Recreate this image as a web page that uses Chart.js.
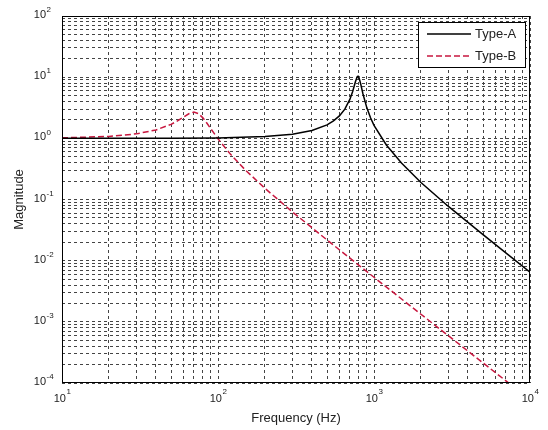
<!DOCTYPE html>
<html lang="en">
<head>
<meta charset="UTF-8">
<title>Magnitude response</title>
<script src="https://cdn.jsdelivr.net/npm/chart.js"></script>
<style>
  html, body { margin: 0; padding: 0; background: #fff; }
  #wrap { width: 548px; height: 430px; }
</style>
</head>
<body>
<div id="wrap"><canvas id="bode"></canvas></div>
<script>
  // values
  const seriesNames = ['Type-A', 'Type-B'];
  const freqA = [10, 20, 50, 100, 200, 300, 400, 500, 550, 600, 650, 700, 730, 760, 780, 790, 800, 820, 850, 900, 950, 1000, 1200, 1500, 2000, 3000, 5000, 7000, 10000];
  const magA  = [1.000, 1.001, 1.004, 1.016, 1.068, 1.168, 1.342, 1.66, 1.925, 2.33, 3.0, 4.33, 5.85, 8.43, 10.2, 10.4, 9.95, 7.93, 5.3, 3.15, 2.17, 1.63, 0.78, 0.395, 0.19, 0.077, 0.0266, 0.0134, 0.0065];
  const freqB = [10, 20, 30, 40, 50, 55, 60, 65, 70, 75, 80, 85, 90, 100, 120, 150, 200, 300, 500, 1000, 2000, 5000, 10000];
  const magB  = [1.018, 1.074, 1.183, 1.37, 1.691, 1.928, 2.22, 2.52, 2.68, 2.536, 2.163, 1.761, 1.429, 0.981, 0.552, 0.302, 0.152, 0.0626, 0.0218, 0.00535, 0.00133, 0.000213, 0.0000533];

  // decade tick labels
  const xDecades = [10, 100, 1000, 10000];
  const yDecades = [1e-4, 1e-3, 1e-2, 1e-1, 1, 10, 100];

  const FONT = '"Liberation Sans", Arial, Helvetica, sans-serif';
  const TEXT = '#222';

  // decades plus 2..9 in between, for the minor grid
  function logTicks(decades) {
    const out = [];
    decades.forEach((d, i) => {
      if (i === decades.length - 1) { out.push(d); return; }
      for (let k = 1; k < 10; k++) out.push(d * k);
    });
    return out.map(v => ({value: v}));
  }

  const toPoints = (xs, ys) => xs.map((x, i) => ({x: x, y: ys[i]}));

  // labels like 10^2, drawn with a raised exponent
  const decadeLabels = {
    id: 'decadeLabels',
    afterDraw(chart) {
      const {ctx, scales: {x, y}} = chart;
      const base = '11px ' + FONT, sup = '8px ' + FONT;
      ctx.save();
      ctx.fillStyle = TEXT;
      ctx.textBaseline = 'middle';
      xDecades.forEach(v => {
        const px = x.getPixelForValue(v);
        const e = String(Math.round(Math.log10(v)));
        ctx.font = base; const wb = ctx.measureText('10').width;
        ctx.font = sup;  const we = ctx.measureText(e).width;
        const left = px - (wb + we) / 2;
        ctx.textAlign = 'left';
        ctx.font = base; ctx.fillText('10', left, y.bottom + 16);
        ctx.font = sup;  ctx.fillText(e, left + wb + 0.5, y.bottom + 9);
      });
      yDecades.forEach(v => {
        const py = y.getPixelForValue(v);
        const e = String(Math.round(Math.log10(v)));
        ctx.font = base; ctx.textAlign = 'right';
        ctx.fillText('10', x.left - 16, py - 1);
        ctx.font = sup; ctx.textAlign = 'left';
        ctx.fillText(e, x.left - 15.5, py - 6);
      });
      ctx.restore();
    }
  };

  // axes box and the legend inside the top right corner
  const boxAndLegend = {
    id: 'boxAndLegend',
    afterDraw(chart) {
      const {ctx, chartArea: a} = chart;
      ctx.save();
      ctx.strokeStyle = '#000';
      ctx.lineWidth = 1;
      ctx.setLineDash([]);
      ctx.strokeRect(a.left + 0.5, a.top + 0.5, a.right - a.left - 1, a.bottom - a.top - 1);

      const bx = a.right - 112, by = a.top + 6, bw = 107, bh = 45;
      ctx.fillStyle = '#fff';
      ctx.fillRect(bx, by, bw, bh);
      ctx.strokeRect(bx + 0.5, by + 0.5, bw, bh);

      ctx.font = '13px ' + FONT;
      ctx.textBaseline = 'middle';
      ctx.textAlign = 'left';
      chart.data.datasets.forEach((ds, i) => {
        const ly = by + 12 + i * 22;
        ctx.strokeStyle = ds.borderColor;
        ctx.lineWidth = ds.borderWidth;
        ctx.setLineDash(ds.borderDash || []);
        ctx.beginPath();
        ctx.moveTo(bx + 9, ly);
        ctx.lineTo(bx + 53, ly);
        ctx.stroke();
        ctx.fillStyle = TEXT;
        ctx.fillText(ds.label, bx + 57, ly);
      });
      ctx.restore();
    }
  };

  const gridOpts = {color: '#444', lineWidth: 1, drawTicks: false};
  const borderOpts = {display: false, dash: [3, 3]};

  new Chart(document.getElementById('bode'), {
    type: 'line',
    data: {
      datasets: [{
        label: seriesNames[0],
        data: toPoints(freqA, magA),
        borderColor: '#000',
        borderWidth: 1.5,
        pointRadius: 0,
        tension: 0
      }, {
        label: seriesNames[1],
        data: toPoints(freqB, magB),
        borderColor: '#c8173f',
        borderWidth: 1.5,
        borderDash: [6, 3],
        pointRadius: 0,
        tension: 0
      }]
    },
    options: {
      responsive: true,
      maintainAspectRatio: false,
      animation: false,
      layout: {padding: {top: 16, right: 18, left: 0, bottom: 0}},
      plugins: {legend: {display: false}, tooltip: {enabled: false}},
      scales: {
        x: {
          type: 'logarithmic',
          min: 10,
          max: 10000,
          afterBuildTicks: s => { s.ticks = logTicks(xDecades); },
          afterFit: s => { s.height = 47; },
          ticks: {display: false},
          grid: gridOpts,
          border: borderOpts,
          title: {display: true, text: 'Frequency (Hz)', color: TEXT,
                  font: {family: FONT, size: 13}, padding: {top: 0, bottom: 4}}
        },
        y: {
          type: 'logarithmic',
          min: 1e-4,
          max: 100,
          afterBuildTicks: s => { s.ticks = logTicks(yDecades); },
          afterFit: s => { s.width = 62; },
          ticks: {display: false},
          grid: gridOpts,
          border: borderOpts,
          title: {display: true, text: 'Magnitude', color: TEXT,
                  font: {family: FONT, size: 13}, padding: {top: 12, bottom: 0}}
        }
      }
    },
    plugins: [boxAndLegend, decadeLabels]
  });
</script>
</body>
</html>
